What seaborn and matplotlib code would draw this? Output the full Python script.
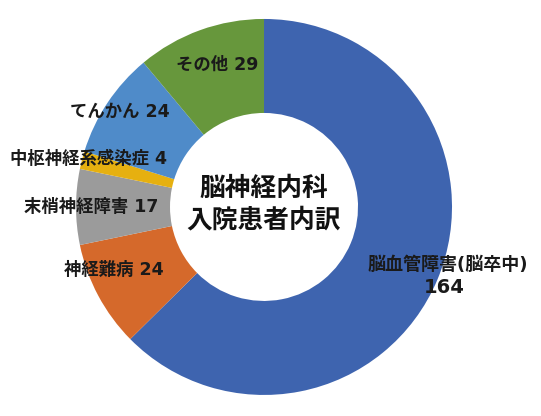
import matplotlib
matplotlib.use("Agg")
import matplotlib.pyplot as plt
import seaborn as sns

# data (clockwise from 12 o'clock)
categories = ["脳血管障害(脳卒中)", "神経難病", "末梢神経障害", "中枢神経系感染症", "てんかん", "その他"]
counts = [164, 24, 17, 4, 24, 29]
colors = ["#3E64AF", "#D5692B", "#9B9B9B", "#E6B010", "#4F8BC9", "#67973C"]

center_title = "脳神経内科\n入院患者内訳"

# label anchor positions (layout only, data coords of the unit pie)
label_pos = [(0.979, -0.309), (-0.80, -0.335), (-0.92, 0.0), (-0.935, 0.255), (-0.765, 0.505), (-0.25, 0.755)]

sns.set_theme(style="white")
# latin/digits from DejaVu, kana/kanji fall back to Noto CJK
mixed = ["DejaVu Sans", "Noto Sans CJK JP"]
plt.rcParams["font.family"] = mixed

fig = plt.figure(figsize=(5.41, 4.16), dpi=100)
ax = fig.add_axes([0.1405, 0.0505, 0.695, 0.904])

ax.pie(
    counts,
    colors=colors,
    startangle=90,
    counterclock=False,
    radius=1.0,
    wedgeprops={"width": 0.5, "linewidth": 0},
)

for cat, n, (x, y) in zip(categories, counts, label_pos):
    if n == max(counts):
        ax.text(x, y, cat, ha="center", va="center", fontsize=13,
                fontweight="bold", color="#1a1a1a")
        ax.text(x - 0.022, y - 0.117, str(n), ha="center", va="center",
                fontsize=14, fontweight="bold", color="#1a1a1a")
    else:
        ax.text(x, y, f"{cat} {n}", ha="center", va="center", fontsize=12.5,
                fontweight="bold", color="#1a1a1a")

ax.text(0, 0.016, center_title, ha="center", va="center", fontsize=18.5,
        fontweight="bold", color="#111111", linespacing=1.2,
        family=["Noto Sans CJK JP", "DejaVu Sans"])

ax.set_xlim(-1, 1)
ax.set_ylim(-1, 1)
ax.set_aspect("equal")
ax.axis("off")

fig.savefig("out.png", dpi=100)
